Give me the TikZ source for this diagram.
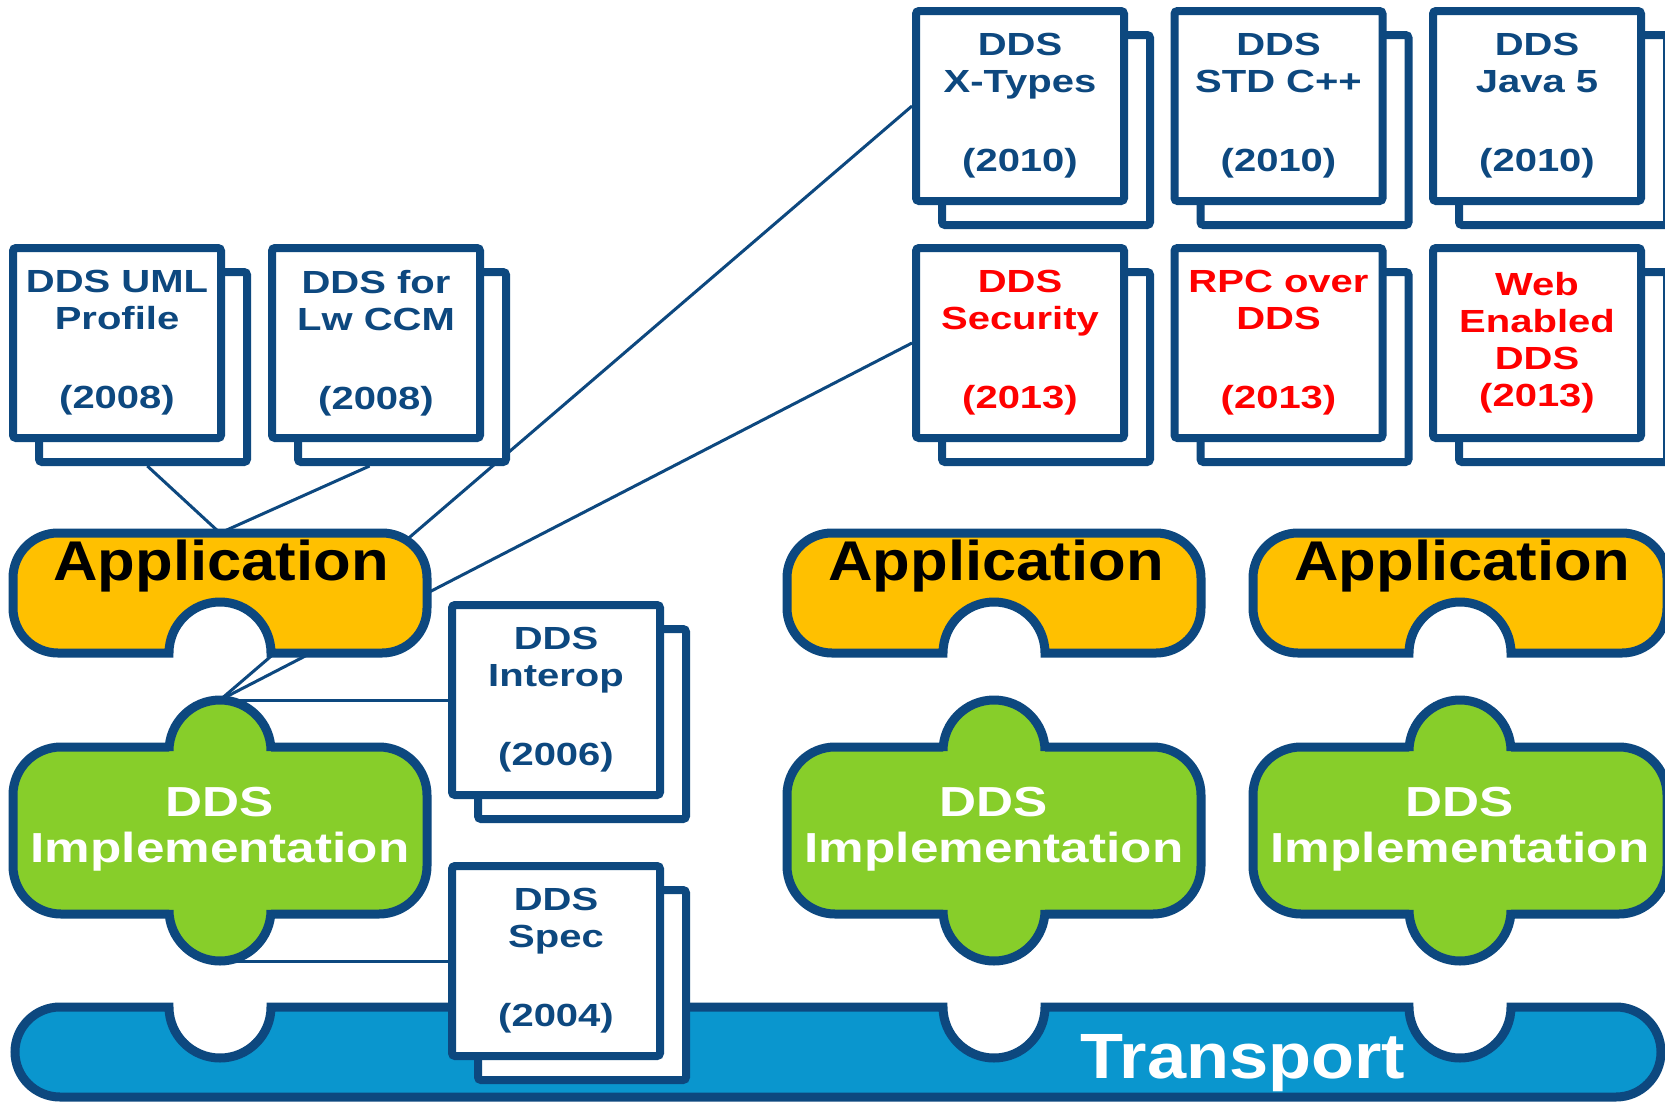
\documentclass[tikz,border=0pt]{standalone}
\usepackage{fontspec}
\newfontfamily\boxfont[FakeStretch=1.25]{Liberation Sans}
\newfontfamily\appfont[FakeStretch=1.1]{Liberation Sans}
\newfontfamily\implfont[FakeStretch=1.22]{Liberation Sans}
\newfontfamily\trfont[FakeStretch=1.1]{Liberation Sans}
\usetikzlibrary{calc,backgrounds}
\pgfdeclarelayer{canvas}
\pgfsetlayers{canvas,background,main}
\definecolor{ddsblue}{RGB}{13,72,127}
\definecolor{appyellow}{RGB}{255,192,0}
\definecolor{implgreen}{RGB}{135,206,42}
\definecolor{trblue}{RGB}{10,150,206}
\definecolor{ddsred}{RGB}{255,0,0}
\newcommand\drawApp[1]{%
  \draw[appstyle] (#1-162,533) -- (#1+162,533) arc[start angle=-90,end angle=0,radius=45]
    -- (#1+207,608) arc[start angle=0,end angle=90,radius=45]
    -- (#1+51,653) arc[start angle=0,end angle=-180,radius=51]
    -- (#1-162,653) arc[start angle=90,end angle=180,radius=45]
    -- (#1-207,578) arc[start angle=180,end angle=270,radius=45] -- cycle;}
\newcommand\drawImpl[1]{%
  \draw[implstyle] (#1-159,747) -- (#1-51,747) -- (#1-51,751) arc[start angle=180,end angle=360,radius=51]
    -- (#1+51,747) -- (#1+159,747) arc[start angle=-90,end angle=0,radius=48]
    -- (#1+207,866) arc[start angle=0,end angle=90,radius=48]
    -- (#1+51,914) -- (#1+51,910) arc[start angle=0,end angle=180,radius=51]
    -- (#1-51,914) -- (#1-159,914) arc[start angle=90,end angle=180,radius=48]
    -- (#1-207,795) arc[start angle=180,end angle=270,radius=48] -- cycle;}
\begin{document}
\begin{tikzpicture}[x=1pt,y=-1pt,
  docback/.style={draw=ddsblue, line width=8pt, fill=white, minimum width=208pt,
    minimum height=190pt, inner sep=0pt, rounded corners=3pt},
  docfront/.style={docback, align=center, text=ddsblue,
    font=\boxfont\bfseries\fontsize{32}{37}\selectfont},
  redtext/.style={text=ddsred},
  conn/.style={draw=ddsblue, line width=3pt},
  appstyle/.style={draw=ddsblue, line width=9pt, fill=appyellow},
  implstyle/.style={draw=ddsblue, line width=9pt, fill=implgreen},
  trstyle/.style={draw=ddsblue, line width=9pt, fill=trblue},
  apptext/.style={anchor=base, inner sep=0pt, text=black,
    font=\appfont\bfseries\fontsize{56}{60}\selectfont},
  impltext/.style={align=center, inner sep=0pt, text=white,
    font=\implfont\bfseries\fontsize{42}{46}\selectfont},
  trtext/.style={anchor=base, inner sep=0pt, text=white,
    font=\trfont\bfseries\fontsize{64}{68}\selectfont}]
\useasboundingbox (0,0) rectangle (1665,1103);
\begin{pgfonlayer}{canvas}
\fill[white] (0,0) rectangle (1665,1103);
\end{pgfonlayer}

% anchor points on the shapes
\coordinate (app1top) at (220,533);
\coordinate (impl1top) at (220,700);
\coordinate (impl1bot) at (220,961);

% transport
\draw[trstyle] (60,1007) -- (169,1007) arc[start angle=180,end angle=0,radius=51]
  -- (943,1007) arc[start angle=180,end angle=0,radius=51]
  -- (1409,1007) arc[start angle=180,end angle=0,radius=51]
  -- (1616,1007) arc[start angle=-90,end angle=0,radius=45]
  arc[start angle=0,end angle=90,radius=45]
  -- (60,1097) arc[start angle=90,end angle=180,radius=45]
  arc[start angle=180,end angle=270,radius=45] -- cycle;
\node[trtext] (transport) at (1243,1078) {Transport};

% application and implementation shapes
\drawApp{220}
\drawApp{994}
\drawApp{1460}
\drawImpl{220}
\drawImpl{994}
\drawImpl{1460}
\node[apptext] (app1) at (221,580) {Application};
\node[apptext] (app2) at (996,580) {Application};
\node[apptext] (app3) at (1462,580) {Application};
\node[impltext] (impl1) at (220,829) {DDS\\Implementation};
\node[impltext] (impl2) at (994,829) {DDS\\Implementation};
\node[impltext] (impl3) at (1460,829) {DDS\\Implementation};

% specification documents: back sheets
\node[docback] (umlb) at (143,367) {};
\node[docback] (lwb) at (402,367) {};
\node[docback] (xtb) at (1046,130) {};
\node[docback] (stdb) at (1304.5,130) {};
\node[docback] (javab) at (1563,130) {};
\node[docback] (secb) at (1046,367) {};
\node[docback] (rpcb) at (1304.5,367) {};
\node[docback] (webb) at (1563,367) {};
\node[docback] (iopb) at (582,724) {};
\node[docback] (specb) at (582,985) {};

% front sheets
\node[docfront] (uml) at (117,343) {DDS UML\\Profile\\[42pt](2008)};
\node[docfront] (lw) at (376,343) {DDS for\\Lw CCM\\[42pt](2008)};
\node[docfront] (xt) at (1020,106) {DDS\\X-Types\\[42pt](2010)};
\node[docfront] (std) at (1278.5,106) {DDS\\STD C++\\[42pt](2010)};
\node[docfront] (java) at (1537,106) {DDS\\Java 5\\[42pt](2010)};
\node[docfront, redtext] (sec) at (1020,343) {DDS\\Security\\[42pt](2013)};
\node[docfront, redtext] (rpc) at (1278.5,343) {RPC over\\DDS\\[42pt](2013)};
\node[docfront, redtext] (web) at (1537,343) {Web\\Enabled\\DDS\\(2013)};
\node[docfront] (iop) at (556,700) {DDS\\Interop\\[42pt](2006)};
\node[docfront] (spec) at (556,961) {DDS\\Spec\\[42pt](2004)};

% connectors, behind all shapes
\begin{pgfonlayer}{background}
\draw[conn] ($(umlb.south west)!0.52!(umlb.south east)$) -- (app1top);
\draw[conn] ($(lwb.south west)!0.35!(lwb.south east)$) -- (app1top);
\draw[conn] (impl1top) -- (xt.west);
\draw[conn] (impl1top) -- (sec.west);
\draw[conn] (impl1top) -- (iop.west);
\draw[conn] (impl1bot) -- (spec.west);
\end{pgfonlayer}
\end{tikzpicture}
\end{document}
